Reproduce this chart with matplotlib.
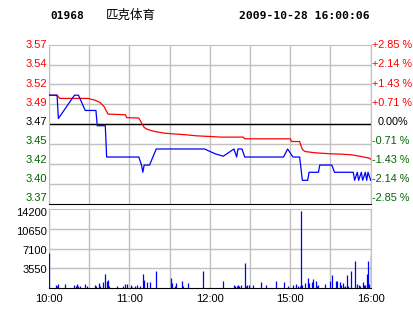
import matplotlib
matplotlib.use("Agg")
import matplotlib.pyplot as plt

code = "01968"
name = "匹克体育"
stamp = "2009-10-28 16:00:06"
prev_close = 3.47
pct_max = 2.85

# last price (blue)
price_times = ["10:00", "10:06", "10:07", "10:19", "10:22", "10:27", "10:35", "10:36",
               "10:42", "10:43", "11:07", "11:09", "11:10", "11:11", "11:15", "11:20",
               "11:56", "12:04", "12:10", "12:18", "12:20", "12:21", "12:24", "12:26",
               "14:55", "14:58", "15:02", "15:07", "15:09", "15:13", "15:14", "15:21",
               "15:22", "15:31", "15:33", "15:47", "15:48", "15:50", "15:51", "15:53",
               "15:54", "15:56", "15:57", "15:58", "16:00"]
price_vals = [3.506, 3.506, 3.477, 3.506, 3.506, 3.487, 3.487, 3.468,
              3.468, 3.429, 3.429, 3.419, 3.410, 3.419, 3.419, 3.439,
              3.439, 3.433, 3.430, 3.439, 3.429, 3.439, 3.439, 3.429,
              3.429, 3.439, 3.429, 3.429, 3.400, 3.400, 3.410, 3.410,
              3.419, 3.419, 3.410, 3.410, 3.400, 3.410, 3.400, 3.410,
              3.400, 3.410, 3.400, 3.410, 3.400]

# average price (red)
avg_times = ["10:00", "10:06", "10:08", "10:29", "10:34", "10:38", "10:41", "10:44",
             "10:57", "10:58", "11:07", "11:11", "11:13", "11:16", "11:20", "11:26",
             "11:32", "11:42", "11:50", "12:01", "12:08", "12:25", "12:26", "15:00",
             "15:01", "15:07", "15:08", "15:09", "15:11", "15:19", "15:30", "15:38",
             "15:46", "15:53", "15:59", "16:00"]
avg_vals = [3.506, 3.506, 3.502, 3.502, 3.500, 3.497, 3.492, 3.4825,
            3.4816, 3.478, 3.4775, 3.4658, 3.4638, 3.462, 3.4604, 3.4588,
            3.4579, 3.4567, 3.4554, 3.4545, 3.4538, 3.4538, 3.4517, 3.4517,
            3.4483, 3.4483, 3.443, 3.4385, 3.4358, 3.4342, 3.433, 3.4326,
            3.4317, 3.4296, 3.4276, 3.4263]

vol_times = ["10:00", "10:05", "10:06", "10:07", "10:12", "10:19", "10:20", "10:21",
             "10:22", "10:23", "10:27", "10:28", "10:34", "10:35", "10:37", "10:38",
             "10:40", "10:42", "10:43", "10:44", "10:45", "10:51", "10:55", "10:57",
             "10:58", "11:01", "11:02", "11:04", "11:06", "11:08", "11:10", "11:11",
             "11:13", "11:15", "11:20", "11:31", "11:32", "11:34", "11:35", "11:39",
             "11:40", "11:44", "11:55", "12:10", "12:18", "12:19", "12:20", "12:21",
             "12:22", "12:23", "12:26", "12:27", "12:28", "12:29", "14:32", "14:38",
             "14:42", "14:49", "14:55", "14:58", "15:02", "15:04", "15:06", "15:07",
             "15:08", "15:09", "15:11", "15:13", "15:14", "15:16", "15:17", "15:19",
             "15:20", "15:21", "15:26", "15:30", "15:31", "15:34", "15:35", "15:37",
             "15:38", "15:39", "15:40", "15:41", "15:42", "15:43", "15:45", "15:48",
             "15:50", "15:51", "15:52", "15:54", "15:55", "15:56", "15:57", "15:58",
             "15:59", "16:00"]
vol_vals = [6300, 600, 350, 780, 780, 600, 420, 780,
            420, 420, 780, 420, 600, 420, 960, 420,
            1200, 2580, 1320, 1500, 420, 420, 420, 780,
            780, 600, 300, 420, 600, 420, 2580, 1500,
            1200, 1200, 3120, 1860, 900, 420, 1020, 1320,
            420, 1020, 3120, 1320, 600, 420, 420, 600,
            420, 600, 4540, 420, 600, 600, 600, 1200,
            540, 1380, 1200, 420, 600, 780, 420, 420,
            13900, 600, 900, 1860, 1020, 1200, 1680, 1320,
            420, 600, 780, 1320, 2400, 1320, 1320, 1200,
            600, 1020, 300, 420, 2400, 420, 3120, 4900,
            780, 600, 420, 1200, 600, 600, 2580, 4900,
            780, 6000]

time_ticks = ["10:00", "11:00", "12:00", "15:00", "16:00"]
price_labels = ["3.57", "3.54", "3.52", "3.49", "3.47", "3.45", "3.42", "3.40", "3.37"]
pct_labels = ["+2.85 %", "+2.14 %", "+1.43 %", "+0.71 %", "0.00%",
              "-0.71 %", "-1.43 %", "-2.14 %", "-2.85 %"]
vol_ticks = [14200, 10650, 7100, 3550]

GRID = "#c0c0c0"
RED = "#ff0000"
GREEN = "#006400"
FONT = "Liberation Sans"


def slot(t):
    # trading minute index: 10:00-12:30 then 14:30-16:00
    h, m = map(int, t.split(":"))
    mins = h * 60 + m
    if mins <= 12 * 60 + 30:
        return mins - 600
    return 150 + mins - (14 * 60 + 30)


fig = plt.figure(figsize=(4.14, 3.14), dpi=100)
W, H = 414, 314
axp = fig.add_axes([49 / W, 1 - 203.5 / H, 321.7 / W, 158.8 / H])
axv = fig.add_axes([49 / W, 1 - 288.3 / H, 321.7 / W, 79.3 / H])

span = prev_close * pct_max / 100
levels = [prev_close + span * k / 4 for k in range(4, -5, -1)]

for ax in (axp, axv):
    ax.set_xlim(0, 240)
    for t in range(0, 241, 30):
        ax.axvline(t, color=GRID, lw=1, zorder=0)
    for s in ("left", "right", "top"):
        ax.spines[s].set_color(GRID)
    ax.spines["bottom"].set_color("black")
    ax.tick_params(length=0)

# price panel
axp.set_ylim(levels[-1], levels[0])
for lv in levels[1:-1]:
    axp.axhline(lv, color=GRID, lw=1, zorder=0)
axp.axhline(prev_close, color="black", lw=1, zorder=1)
axp.plot([slot(t) for t in avg_times], avg_vals, color=RED, lw=0.9, zorder=3)
axp.plot([slot(t) for t in price_times], price_vals, color="#0000ff", lw=0.9, zorder=3)
axp.set_xticks([])
axp.set_yticks([])
for i, lv in enumerate(levels):
    col = RED if i < 4 else ("black" if i == 4 else GREEN)
    dy = 0.73 * i - 0.6   # labels sit slightly tighter than the grid
    axp.annotate(price_labels[i], xy=(0, lv), xycoords=axp.get_yaxis_transform(),
                 xytext=(-2, dy), textcoords="offset pixels", family=FONT,
                 ha="right", va="center", fontsize=8, color=col, annotation_clip=False)
    axp.annotate(pct_labels[i], xy=(1, lv), xycoords=axp.get_yaxis_transform(),
                 xytext=(7 if i == 4 else 1, dy), textcoords="offset pixels", family=FONT,
                 ha="left", va="center", fontsize=7.8, color=col, annotation_clip=False)

# volume panel
axv.set_ylim(0, vol_ticks[0])
for v in vol_ticks[1:]:
    axv.axhline(v, color=GRID, lw=1, zorder=0)
axv.vlines([slot(t) for t in vol_times], 0, vol_vals, color="#0000ff", lw=0.9, zorder=3)
axv.set_yticks([])
for v, dy in zip(vol_ticks, [-4, -3, -2, -2]):
    axv.annotate(str(v), xy=(0, v), xycoords=axv.get_yaxis_transform(),
                 xytext=(-2, dy), textcoords="offset pixels", family=FONT,
                 ha="right", va="center", fontsize=8, annotation_clip=False)
axv.set_xticks([slot(t) for t in time_ticks], labels=time_ticks)
axv.tick_params(axis="x", pad=4, labelsize=8)
for lab in axv.get_xticklabels():
    lab.set_family(FONT)

# header
fig.text(50 / W, 1 - 16 / H, code, family="DejaVu Sans Mono", weight="bold",
         fontsize=8, va="center", ha="left")
fig.text(106 / W, 1 - 15.5 / H, name, family=["Noto Sans CJK SC", "DejaVu Sans"],
         fontsize=9, va="center", ha="left")
fig.text(370 / W, 1 - 16 / H, stamp, family="DejaVu Sans Mono", weight="bold",
         fontsize=8.2, va="center", ha="right")

fig.savefig("out.png", dpi=100)
